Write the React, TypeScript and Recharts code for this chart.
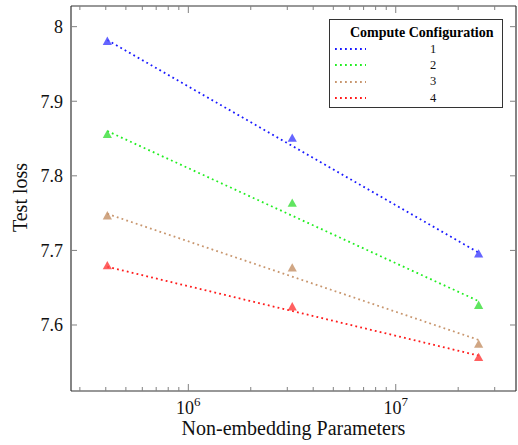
import React from 'react';
import { LineChart, Line, XAxis, YAxis, Legend, Label } from 'recharts';

// ---- data ----
const configNames = ['1', '2', '3', '4'];
const lineColors = ['#1a1aff', '#22ee22', '#c8966e', '#ff1a1a'];
const markColors = ['#4a4aff', '#44e044', '#c8966e', '#ff4444'];

const params = [4.07e5, 3.17e6, 2.51e7];
const loss1 = [7.98, 7.85, 7.695];
const loss2 = [7.855, 7.763, 7.626];
const loss3 = [7.746, 7.676, 7.574];
const loss4 = [7.679, 7.624, 7.556];

const fitParams = [4.07e5, 2.51e7];
const fit1 = [7.982, 7.697];
const fit2 = [7.86, 7.632];
const fit3 = [7.749, 7.58];
const fit4 = [7.678, 7.559];

const xTicks = [3e5, 4e5, 5e5, 6e5, 7e5, 8e5, 9e5, 1e6, 2e6, 3e6, 4e6, 5e6, 6e6, 7e6, 8e6, 9e6, 1e7, 2e7, 3e7];
const yTicks = [7.6, 7.7, 7.8, 7.9, 8];
const xDomain = [2.719e5, 3.8e7];
const yDomain = [7.5115, 8.0277];

const xLabel = 'Non-embedding Parameters';
const yLabel = 'Test loss';
const legendTitle = 'Compute Configuration';

const lossSeries = [loss1, loss2, loss3, loss4];
const fitSeries = [fit1, fit2, fit3, fit4];

const toPoints = (xs: number[], ys: number[]) => xs.map((x, i) => ({ x, y: ys[i] }));

const FONT = '"Liberation Serif", "DejaVu Serif", serif';
const TEXT_STYLE = { fontFamily: FONT };
const TICK_COLOR = '#808080';
const FRAME = { stroke: '#333', strokeWidth: 1.2 };

const isMajor = (v: number) => Math.abs(Math.log10(v) - Math.round(Math.log10(v))) < 1e-9;

const XTickBottom = (props: any) => {
  const { x, y, payload } = props;
  const v = payload.value;
  const major = isMajor(v);
  return (
    <g>
      <line x1={x} x2={x} y1={y} y2={y - (major ? 7 : 4)} stroke={TICK_COLOR} strokeWidth={1} />
      {major && (
        <text x={x} y={y + 23} textAnchor="middle" style={TEXT_STYLE} fontSize={18} fill="#111">
          10
          <tspan dy={-8} fontSize={13}>{Math.round(Math.log10(v))}</tspan>
        </text>
      )}
    </g>
  );
};

const XTickTop = (props: any) => {
  const { x, y, payload } = props;
  const major = isMajor(payload.value);
  return <line x1={x} x2={x} y1={y} y2={y + (major ? 7 : 4)} stroke={TICK_COLOR} strokeWidth={1} />;
};

const YTickLeft = (props: any) => {
  const { x, y, payload } = props;
  return (
    <g>
      <line x1={x} x2={x + 6} y1={y} y2={y} stroke={TICK_COLOR} strokeWidth={1} />
      <text x={x - 8} y={y} dy="0.35em" textAnchor="end" style={TEXT_STYLE} fontSize={18} fill="#111">
        {String(payload.value)}
      </text>
    </g>
  );
};

const YTickRight = (props: any) => {
  const { x, y } = props;
  return <line x1={x} x2={x - 6} y1={y} y2={y} stroke={TICK_COLOR} strokeWidth={1} />;
};

const makeTriangle = (fill: string) => (props: any) => {
  const { cx, cy, index } = props;
  if (cx == null || cy == null) return <g key={index} />;
  return (
    <path
      key={index}
      d={`M${cx},${cy - 5} L${cx + 4.6},${cy + 3.3} L${cx - 4.6},${cy + 3.3} Z`}
      fill={fill}
      fillOpacity={0.85}
    />
  );
};

const XAxisLabel = (props: any) => {
  const vb = props.viewBox;
  return (
    <text x={vb.x + vb.width / 2} y={vb.y + 44} textAnchor="middle" style={TEXT_STYLE} fontSize={20} fill="#111">
      {xLabel}
    </text>
  );
};

const YAxisLabel = (props: any) => {
  const vb = props.viewBox;
  const cx = vb.x + 27;
  const cy = vb.y + vb.height / 2 - 1;
  return (
    <text
      x={cx}
      y={cy}
      transform={`rotate(-90, ${cx}, ${cy})`}
      textAnchor="middle"
      style={TEXT_STYLE}
      fontSize={20}
      fill="#111"
    >
      {yLabel}
    </text>
  );
};

const LegendBox = () => (
  <div
    style={{
      boxSizing: 'border-box',
      width: 174,
      height: 89,
      border: '1.3px solid #333',
      background: '#fff',
      fontFamily: FONT,
      paddingTop: 4,
    }}
  >
    <div style={{ fontWeight: 'bold', fontSize: 14, lineHeight: '17px', paddingLeft: 20, whiteSpace: 'nowrap' }}>
      {legendTitle}
    </div>
    {configNames.map((name, i) => (
      <div key={name} style={{ display: 'flex', alignItems: 'center', height: 16.3 }}>
        <div style={{ width: 36, paddingLeft: 5, boxSizing: 'border-box', display: 'flex' }}>
          <svg width={31} height={4}>
            <line x1={0} x2={31} y1={2} y2={2} stroke={lineColors[i]} strokeWidth={1.8} strokeDasharray="1.8 3.2" />
          </svg>
        </div>
        <div style={{ width: 134, textAlign: 'center', fontSize: 12.5, color: '#111' }}>{name}</div>
      </div>
    ))}
  </div>
);

export default function App() {
  return (
    <div style={{ position: 'absolute', left: 0, top: 0, width: 518, height: 445, background: '#fff' }}>
      <LineChart width={518} height={445} margin={{ top: 5, right: 1, bottom: 0, left: 0 }}>
        <XAxis
          xAxisId="bottom"
          dataKey="x"
          type="number"
          scale="log"
          domain={xDomain}
          allowDataOverflow
          ticks={xTicks}
          interval={0}
          height={54}
          tickSize={0}
          tickMargin={0}
          tickLine={false}
          axisLine={FRAME}
          tick={XTickBottom}
          label={<Label content={XAxisLabel} />}
        />
        <XAxis
          xAxisId="top"
          orientation="top"
          dataKey="x"
          type="number"
          scale="log"
          domain={xDomain}
          allowDataOverflow
          ticks={xTicks}
          interval={0}
          height={1}
          tickSize={0}
          tickMargin={0}
          tickLine={false}
          axisLine={FRAME}
          tick={XTickTop}
        />
        <YAxis
          yAxisId="left"
          type="number"
          domain={yDomain}
          allowDataOverflow
          ticks={yTicks}
          interval={0}
          width={71}
          tickSize={0}
          tickMargin={0}
          tickLine={false}
          axisLine={FRAME}
          tick={YTickLeft}
          label={<Label content={YAxisLabel} />}
        />
        <YAxis
          yAxisId="right"
          orientation="right"
          type="number"
          domain={yDomain}
          allowDataOverflow
          ticks={yTicks}
          interval={0}
          width={1}
          tickSize={0}
          tickMargin={0}
          tickLine={false}
          axisLine={FRAME}
          tick={YTickRight}
        />
        {fitSeries.map((fit, i) => (
          <Line
            key={`fit-${i}`}
            xAxisId="top"
            yAxisId="right"
            data={toPoints(fitParams, fit)}
            dataKey="y"
            name={`fit ${configNames[i]}`}
            stroke={lineColors[i]}
            strokeWidth={1.8}
            strokeDasharray="1.8 3.2"
            dot={false}
            activeDot={false}
            isAnimationActive={false}
            legendType="none"
          />
        ))}
        {lossSeries.map((loss, i) => (
          <Line
            key={`loss-${i}`}
            xAxisId="bottom"
            yAxisId="left"
            data={toPoints(params, loss)}
            dataKey="y"
            name={configNames[i]}
            stroke="none"
            strokeWidth={0}
            dot={makeTriangle(markColors[i])}
            activeDot={false}
            isAnimationActive={false}
          />
        ))}
        <Legend
          layout="vertical"
          verticalAlign="middle"
          align="center"
          wrapperStyle={{ left: 329, top: 19, width: 174, height: 89 }}
          content={LegendBox}
        />
      </LineChart>
    </div>
  );
}
